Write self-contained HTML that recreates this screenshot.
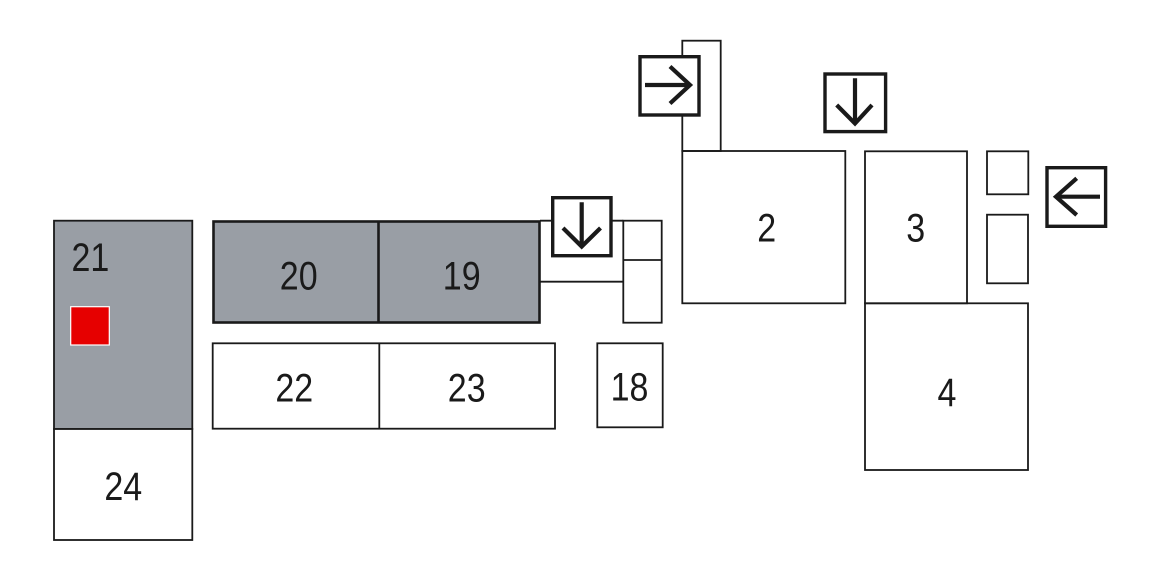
<!DOCTYPE html>
<html>
<head>
<meta charset="utf-8">
<style>
  html,body{margin:0;padding:0;background:#fff;}
  svg{display:block;}
  text{font-family:"Liberation Sans",sans-serif;font-size:40px;fill:#1a1a1a;}
</style>
</head>
<body>
<svg width="1160" height="580" viewBox="0 0 1160 580" xmlns="http://www.w3.org/2000/svg">
  <rect x="0" y="0" width="1160" height="580" fill="#fff"/>
  <g fill="none" stroke="#1a1a1a" stroke-width="1.8">
    <!-- left column -->
    <rect x="54" y="220.7" width="138.3" height="208.3" fill="#999ea5"/>
    <rect x="54" y="429" width="138.3" height="111" fill="#fff"/>
    <!-- 22/23 -->
    <rect x="212.7" y="343.3" width="342.3" height="85.4" fill="#fff"/>
    <line x1="379.3" y1="343.3" x2="379.3" y2="428.7"/>
    <!-- 18 -->
    <rect x="597.3" y="343.3" width="65.4" height="84"/>
    <!-- connectors near 19 -->
    <line x1="540" y1="220.7" x2="623.3" y2="220.7"/>
    <line x1="540" y1="281.7" x2="623.3" y2="281.7"/>
    <rect x="623.3" y="220.7" width="38.4" height="102"/>
    <line x1="623.3" y1="260" x2="661.7" y2="260"/>
    <!-- top middle -->
    <rect x="682.3" y="40.7" width="38.4" height="110.3"/>
    <rect x="682.3" y="151" width="163" height="152.3"/>
    <!-- right -->
    <rect x="865" y="151.3" width="102" height="152"/>
    <rect x="865" y="303.3" width="163" height="166.7"/>
    <rect x="987" y="151.3" width="41.3" height="43"/>
    <rect x="987" y="214.7" width="41" height="68.6"/>
  </g>
  <!-- 20/19 thick -->
  <g fill="#999ea5" stroke="#1a1a1a" stroke-width="2.6">
    <rect x="213.5" y="221.5" width="326" height="101"/>
    <line x1="378.5" y1="221.5" x2="378.5" y2="322.5"/>
  </g>
  <!-- red square -->
  <rect x="70.7" y="306.7" width="38.6" height="38.3" fill="#e60000" stroke="#fff" stroke-width="1.2"/>

  <!-- arrow boxes -->
  <g fill="#fff" stroke="#1a1a1a" stroke-width="3.4">
    <rect x="640" y="56.7" width="59" height="58.3"/>
    <rect x="552.7" y="197.7" width="58.3" height="58"/>
    <rect x="825" y="74" width="60.6" height="57.6"/>
    <rect x="1047" y="167.7" width="58.6" height="58.6"/>
  </g>
  <g fill="none" stroke="#1a1a1a" stroke-width="4.2" stroke-linecap="butt" stroke-linejoin="miter">
    <!-- right arrow -->
    <line x1="645" y1="85" x2="690" y2="85"/>
    <polyline points="670,66.5 690,85 670,103.5"/>
    <!-- small down arrow -->
    <line x1="581.7" y1="202.3" x2="581.7" y2="246"/>
    <polyline points="563,228 581.7,246.5 600.5,228"/>
    <!-- top down arrow -->
    <line x1="855" y1="78.3" x2="855" y2="123"/>
    <polyline points="836.7,105 855,123.5 872,105"/>
    <!-- left arrow -->
    <line x1="1056" y1="196.7" x2="1100" y2="196.7"/>
    <polyline points="1076.7,178.3 1056,196.7 1076.7,215"/>
  </g>

  <!-- labels -->
  <g>
    <text transform="translate(71.5,271) scale(0.85,1)">21</text>
    <text text-anchor="middle" transform="translate(298.7,289.3) scale(0.85,1)">20</text>
    <text text-anchor="middle" transform="translate(461.7,289.3) scale(0.85,1)">19</text>
    <text text-anchor="middle" transform="translate(294.3,401.7) scale(0.85,1)">22</text>
    <text text-anchor="middle" transform="translate(466.7,401.7) scale(0.85,1)">23</text>
    <text text-anchor="middle" transform="translate(629.5,400.7) scale(0.85,1)">18</text>
    <text text-anchor="middle" transform="translate(123.3,500) scale(0.85,1)">24</text>
    <text text-anchor="middle" transform="translate(766.7,241.7) scale(0.85,1)">2</text>
    <text text-anchor="middle" transform="translate(915.7,241.7) scale(0.85,1)">3</text>
    <text text-anchor="middle" transform="translate(947,406) scale(0.85,1)">4</text>
  </g>
</svg>
</body>
</html>
